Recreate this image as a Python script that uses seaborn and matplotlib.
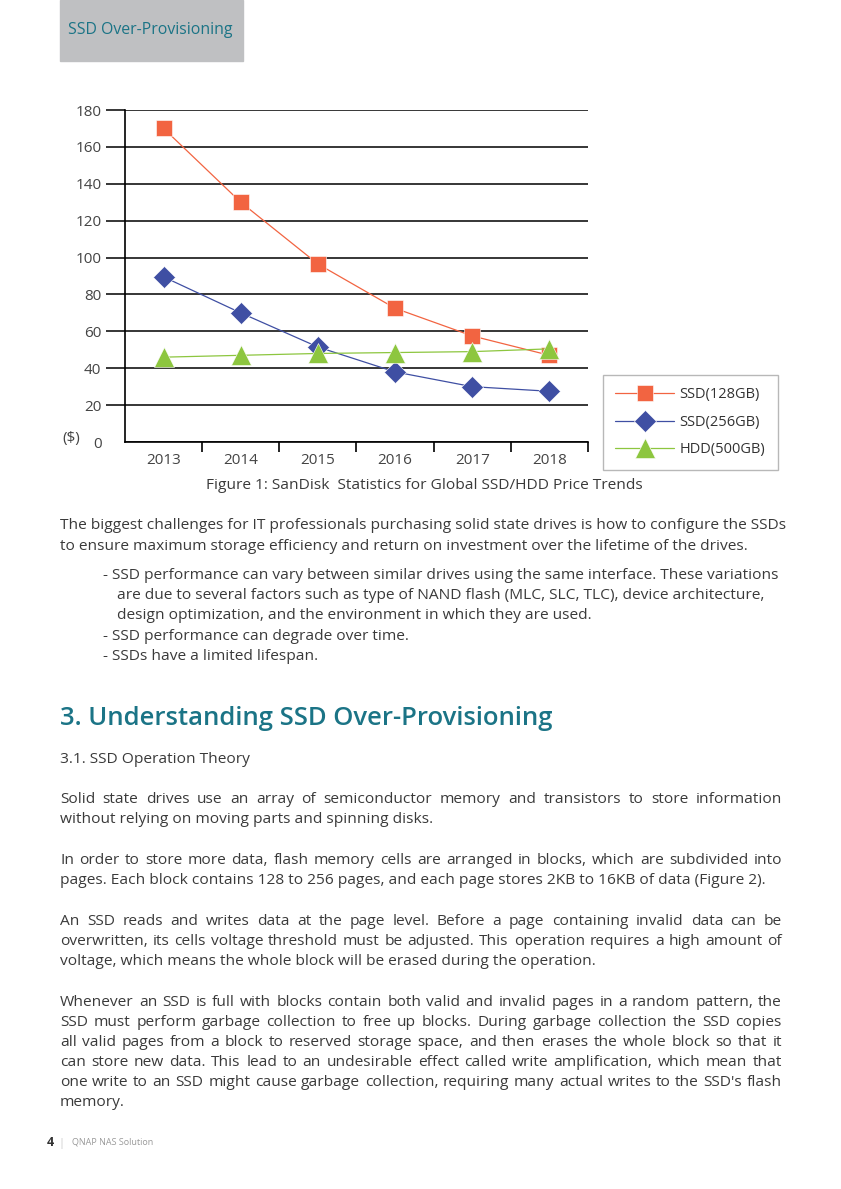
import matplotlib
matplotlib.use('Agg')
import matplotlib.pyplot as plt
import seaborn as sns
import pandas as pd
from matplotlib.patches import Rectangle

W, H = 841, 1189

# chart data
years = ['2013', '2014', '2015', '2016', '2017', '2018']
ssd128 = [170, 130, 96.5, 72.5, 57.5, 47]
ssd256 = [89.5, 70, 51.5, 38, 30, 27.5]
hdd500 = [46, 47, 48, 48.5, 49, 50.5]
series_names = ['SSD(128GB)', 'SSD(256GB)', 'HDD(500GB)']
y_ticks = [0, 20, 40, 60, 80, 100, 120, 140, 160, 180]

caption = 'Figure 1: SanDisk  Statistics for Global SSD/HDD Price Trends'
intro = ['The biggest challenges for IT professionals purchasing solid state drives is how to configure the SSDs',
         'to ensure maximum storage efficiency and return on investment over the lifetime of the drives.']
bullets = [('- SSD performance can vary between similar drives using the same interface. These variations', 103),
           ('are due to several factors such as type of NAND flash (MLC, SLC, TLC), device architecture,', 117),
           ('design optimization, and the environment in which they are used.', 117),
           ('- SSD performance can degrade over time.', 103),
           ('- SSDs have a limited lifespan.', 103)]
heading = '3. Understanding SSD Over-Provisioning'
subheading = '3.1. SSD Operation Theory'
paragraphs = [
    ['Solid state drives use an array of semiconductor memory and transistors to store information',
     'without relying on moving parts and spinning disks.'],
    ['In order to store more data, flash memory cells are arranged in blocks, which are subdivided into',
     'pages. Each block contains 128 to 256 pages, and each page stores 2KB to 16KB of data (Figure 2).'],
    ['An SSD reads and writes data at the page level. Before a page containing invalid data can be',
     'overwritten, its cells voltage threshold must be adjusted. This operation requires a high amount of',
     'voltage, which means the whole block will be erased during the operation.'],
    ['Whenever an SSD is full with blocks contain both valid and invalid pages in a random pattern, the',
     'SSD must perform garbage collection to free up blocks.  During garbage collection the SSD copies',
     'all valid pages from a block to reserved storage space, and then erases the whole block so that it',
     "can store new data. This lead to an undesirable effect called write amplification, which mean that",
     "one write to an SSD might cause garbage collection, requiring many actual writes to the SSD's flash",
     'memory.'],
]
para_tops = [803, 864, 925, 1006]

TEXT = '#3a3a3a'
TEAL = '#1b7486'

sns.set_style('white')
plt.rcParams['font.family'] = ['Open Sans', 'DejaVu Sans']

fig = plt.figure(figsize=(W / 100, H / 100), dpi=100)
r = fig.canvas.get_renderer()


def put(x, y, s, size, color=TEXT, **kw):
    return fig.text(x / W, 1 - y / H, s, fontsize=size, color=color, va='baseline', **kw)


def fit(s, width, **kw):
    t = fig.text(0, 0, s, fontsize=10, **kw)
    w = t.get_window_extent(r).width
    t.remove()
    return 10 * width / w


def justify(x0, x1, y, line, size):
    words = line.split()
    arts = [put(x0, y, w, size) for w in words]
    widths = [a.get_window_extent(r).width for a in arts]
    gap = (x1 - x0 - sum(widths)) / (len(words) - 1)
    x = x0
    for a, w in zip(arts, widths):
        a.set_x(x / W)
        x += w + gap


# header tab
fig.add_artist(Rectangle((60 / W, 1 - 61 / H), 183 / W, 61 / H, transform=fig.transFigure,
                         color='#bfc0c2', zorder=0))
put(68, 34, 'SSD Over-Provisioning', fit('SSD Over-Provisioning', 165), color=TEAL)

# chart
ax = fig.add_axes([125 / W, 1 - 442 / H, 463 / W, 332 / H])
df = pd.DataFrame({'year': years, series_names[0]: ssd128,
                   series_names[1]: ssd256, series_names[2]: hdd500})
styles = [('s', '#f26441', 11), ('D', '#3f4fa3', 11.5), ('^', '#8dc63f', 14)]
for name, (mk, col, ms) in zip(series_names, styles):
    sns.lineplot(data=df, x='year', y=name, ax=ax, color=col, marker=mk, markersize=ms,
                 markeredgecolor='white', markeredgewidth=0.4, lw=0.9, label=name)

ax.set_xlabel('')
ax.set_ylabel('')
ax.set_xlim(-0.5, 5.5)
ax.set_ylim(0, 180)
ax.set_yticks(y_ticks)
ax.yaxis.grid(True, color='black', lw=1.1)
ax.set_axisbelow(True)
ax.tick_params(axis='y', left=True, length=14, width=1.1, color='black', pad=3,
               labelsize=11, labelcolor='#444')
ax.yaxis.get_major_ticks()[0].tick1line.set_visible(False)
ax.set_xticks(range(len(years)))
ax.set_xticklabels(years)
ax.set_xticks([i + 0.5 for i in range(len(years))], minor=True)
ax.tick_params(axis='x', which='major', bottom=True, length=0, pad=8, labelsize=11, labelcolor='#444')
ax.tick_params(axis='x', which='minor', bottom=True, length=7, width=1.2, color='black')
for side in ['top', 'right']:
    ax.spines[side].set_visible(False)
for side in ['left', 'bottom']:
    ax.spines[side].set_color('black')
    ax.spines[side].set_linewidth(1.2)
ax.patch.set_alpha(0)
put(62, 442, '($)', 11, color='#444')

leg = ax.legend(loc='upper left', bbox_to_anchor=(603 / W, 1 - 375 / H), bbox_transform=fig.transFigure,
                frameon=True, fancybox=False, edgecolor='#b8b8b8', framealpha=1, fontsize=10.5,
                handlelength=4.0, handletextpad=0.4, labelspacing=0.85, borderpad=0.85, borderaxespad=0)
leg.get_frame().set_linewidth(1.0)
for t in leg.get_texts():
    t.set_color('#333')

# text body
BODY = fit(intro[0], 722)
fig.text(424 / W, 1 - 489 / H, caption, fontsize=BODY, color=TEXT, ha='center', va='baseline')
put(60, 529, intro[0], BODY)
put(60, 550, intro[1], BODY)
for i, (line, x) in enumerate(bullets):
    put(x, 579 + i * 20.2, line, BODY)

put(60, 725, heading, fit(heading, 493, weight='semibold'), color=TEAL, weight='semibold')
put(60, 763, subheading, BODY)

for top, para in zip(para_tops, paragraphs):
    for i, line in enumerate(para):
        y = top + i * 20
        if i < len(para) - 1:
            justify(60, 782, y, line, BODY)
        else:
            put(60, y, line, BODY)

# footer
put(47, 1146, '4', 9, color='#333', weight='bold')
put(58, 1146, '|', 8, color='#ccc')
put(72, 1145, 'QNAP NAS Solution', 6.5, color='#999')

fig.savefig('out.png', dpi=100)
